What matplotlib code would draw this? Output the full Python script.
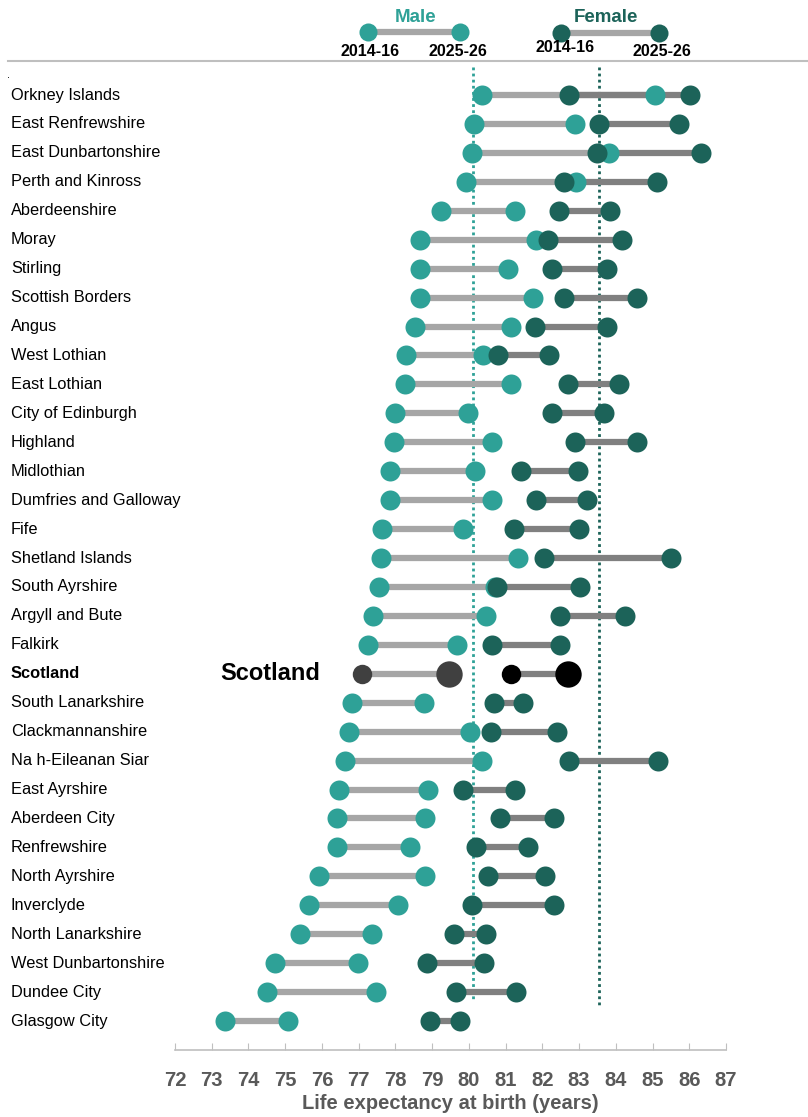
import matplotlib.pyplot as plt
from matplotlib.lines import Line2D
import matplotlib.transforms as mtransforms

areas = [
    "Orkney Islands", "East Renfrewshire", "East Dunbartonshire", "Perth and Kinross",
    "Aberdeenshire", "Moray", "Stirling", "Scottish Borders", "Angus", "West Lothian",
    "East Lothian", "City of Edinburgh", "Highland", "Midlothian", "Dumfries and Galloway",
    "Fife", "Shetland Islands", "South Ayrshire", "Argyll and Bute", "Falkirk", "Scotland",
    "South Lanarkshire", "Clackmannanshire", "Na h-Eileanan Siar", "East Ayrshire",
    "Aberdeen City", "Renfrewshire", "North Ayrshire", "Inverclyde", "North Lanarkshire",
    "West Dunbartonshire", "Dundee City", "Glasgow City",
]
male_2014 = [80.35, 80.13, 80.09, 79.91, 79.24, 78.67, 78.66, 78.66, 78.53, 78.29,
             78.27, 77.99, 77.95, 77.86, 77.84, 77.63, 77.61, 77.55, 77.39, 77.26, 77.09,
             76.81, 76.73, 76.64, 76.47, 76.42, 76.41, 75.93, 75.65, 75.39, 74.73, 74.50, 73.37]
male_2025 = [85.07, 82.89, 83.81, 82.91, 81.26, 81.83, 81.07, 81.74, 81.16, 80.38,
             81.14, 79.99, 80.62, 80.18, 80.62, 79.83, 81.34, 80.70, 80.46, 79.68, 79.45,
             78.79, 80.04, 80.35, 78.89, 78.80, 78.39, 78.80, 78.06, 77.37, 76.98, 77.46, 75.07]
female_2014 = [82.72, 83.55, 83.48, 82.59, 82.46, 82.16, 82.26, 82.59, 81.79, 80.79,
               82.70, 82.25, 82.89, 81.43, 81.83, 81.22, 82.05, 80.77, 82.47, 80.64, 81.16,
               80.69, 80.61, 82.72, 79.85, 80.85, 80.19, 80.53, 80.09, 79.60, 78.85, 79.64, 78.95]
female_2025 = [86.01, 85.72, 86.31, 85.11, 83.84, 84.16, 83.77, 84.59, 83.76, 82.18,
               84.08, 83.69, 84.59, 82.98, 83.22, 83.01, 85.51, 83.03, 84.26, 82.47, 82.70,
               81.47, 82.39, 85.15, 81.26, 82.33, 81.61, 82.07, 82.33, 80.48, 80.41, 81.29, 79.76]
ref_male = 80.1
ref_female = 83.55
xticks = list(range(72, 88))

TEAL = "#2ea197"
DARK = "#1c6359"
MALE_LINE = "#a6a6a6"
FEMALE_LINE = "#808080"
AXIS_GREY = "#595959"

W, H = 808, 1117
fig = plt.figure(figsize=(W / 100, H / 100), dpi=100)
ax = fig.add_axes([175 / W, 1 - 1050 / H, (726 - 175) / W, (1050 - 61) / H])

n = len(areas)
ys = list(range(n))
scot = areas.index("Scotland")

# reference lines
ax.vlines(ref_male, -0.97, 31.3, colors=TEAL, linestyles=(0, (1, 1.2)), linewidth=2, zorder=1)
ax.vlines(ref_female, -0.97, 31.5, colors=DARK, linestyles=(0, (1, 1.2)), linewidth=2, zorder=1)

# connector lines
ax.hlines(ys, male_2014, male_2025, colors=MALE_LINE, linewidth=4.5, zorder=2)
ax.hlines(ys, female_2014, female_2025, colors=FEMALE_LINE, linewidth=4.5, zorder=3)

ms = 14.4
for i in ys:
    if i == scot:
        continue
    ax.plot([male_2014[i], male_2025[i]], [i, i], "o", color=TEAL, ms=ms, mec="none", zorder=4)
for i in ys:
    if i == scot:
        continue
    ax.plot([female_2014[i], female_2025[i]], [i, i], "o", color=DARK, ms=ms, mec="none", zorder=5)

# Scotland highlighted
ax.plot(male_2014[scot], scot, "o", color="#404040", ms=14, mec="none", zorder=6)
ax.plot(male_2025[scot], scot, "o", color="#404040", ms=19, mec="none", zorder=6)
ax.plot(female_2014[scot], scot, "o", color="black", ms=14, mec="none", zorder=6)
ax.plot(female_2025[scot], scot, "o", color="black", ms=19, mec="none", zorder=6)

ax.set_xlim(72, 87)
ax.set_ylim(33.0, -1.175)
ax.set_yticks([])
ax.set_xticks(xticks)
ax.tick_params(axis="x", direction="in", length=5, color="#bfbfbf", pad=15,
               labelsize=14.5, labelcolor=AXIS_GREY)
for lbl in ax.get_xticklabels():
    lbl.set_fontweight("bold")
    lbl.set_family("Liberation Sans")
ax.set_xlabel("Life expectancy at birth (years)", fontsize=14.5, fontweight="bold",
              color=AXIS_GREY, family="Liberation Sans", labelpad=3)
for side in ["top", "right", "left"]:
    ax.spines[side].set_visible(False)
ax.spines["bottom"].set_color("#bfbfbf")
ax.spines["bottom"].set_linewidth(1.2)

# row labels
trans = mtransforms.blended_transform_factory(fig.transFigure, ax.transData)
for i, name in enumerate(areas):
    ax.text(11 / W, i, name, transform=trans, ha="left", va="center", fontsize=11.8,
            family="Liberation Sans", fontweight="bold" if i == scot else "normal",
            color="black")
ax.text(270 / W, scot, "Scotland", transform=trans, ha="center", va="center",
        fontsize=17, fontweight="bold", family="Liberation Sans")

# top rule and stray dot
fig.add_artist(Line2D([8 / W, 1], [1 - 61 / H] * 2, color="#bfbfbf", lw=1.5))
fig.text(8 / W, 1 - 75 / H, ".", fontsize=7, ha="center", va="center")


# legend
def fx(px):
    return px / W


def fy(py):
    return 1 - py / H


narrow = ["Liberation Sans Narrow", "Liberation Sans"]
fig.add_artist(Line2D([fx(368), fx(460)], [fy(32)] * 2, color=MALE_LINE, lw=4.5))
fig.add_artist(Line2D([fx(368), fx(460)], [fy(32)] * 2, ls="none", marker="o",
                      color=TEAL, ms=13, mec="none"))
fig.add_artist(Line2D([fx(561), fx(659)], [fy(33)] * 2, color=MALE_LINE, lw=4.5))
fig.add_artist(Line2D([fx(561), fx(659)], [fy(33)] * 2, ls="none", marker="o",
                      color=DARK, ms=13, mec="none"))
fig.text(fx(416), fy(17), "Male", color=TEAL, fontsize=13.5, fontweight="bold",
         family=narrow, ha="center", va="center")
fig.text(fx(606), fy(17), "Female", color=DARK, fontsize=13.5, fontweight="bold",
         family=narrow, ha="center", va="center")
fig.text(fx(370), fy(52), "2014-16", fontsize=11.5, fontweight="bold", family=narrow,
         ha="center", va="center")
fig.text(fx(458), fy(52), "2025-26", fontsize=11.5, fontweight="bold", family=narrow,
         ha="center", va="center")
fig.text(fx(565), fy(47), "2014-16", fontsize=11.5, fontweight="bold", family=narrow,
         ha="center", va="center")
fig.text(fx(662), fy(51), "2025-26", fontsize=11.5, fontweight="bold", family=narrow,
         ha="center", va="center")

fig.savefig("out.png", dpi=100)
